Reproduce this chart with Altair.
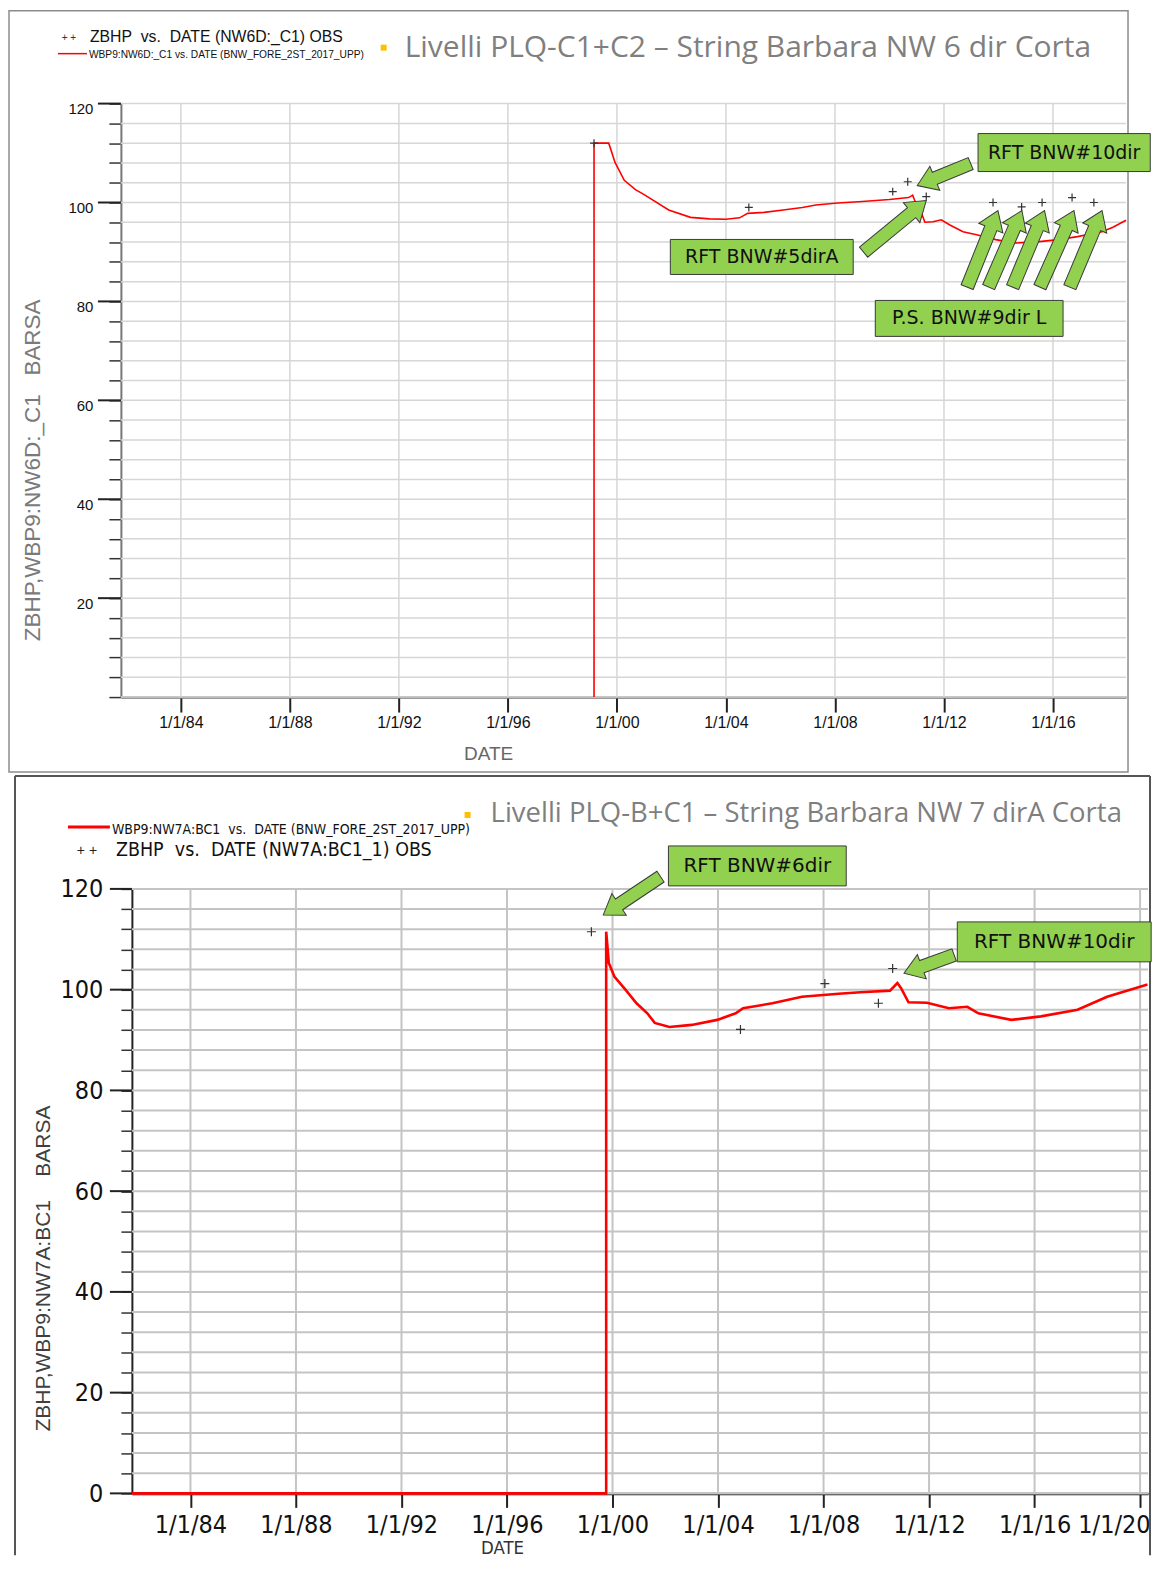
import math
import altair as alt
import pandas as pd

# ---------------- data ----------------
# top panel: simulated pressure (red line)
top_line_year = [1999.16, 1999.16, 1999.70, 1999.93, 2000.27, 2000.68, 2001.00, 2001.90, 2002.70, 2003.40,
                 2004.00, 2004.50, 2004.80, 2005.40, 2006.10, 2006.80, 2007.30, 2008.10, 2009.00, 2010.00,
                 2010.70, 2010.85, 2010.92, 2011.20, 2011.30, 2011.60, 2011.90, 2012.20, 2012.70, 2013.20,
                 2013.90, 2014.60, 2015.50, 2016.20, 2016.90, 2017.80, 2018.20, 2018.68]
top_line_val = [0.0, 112.0, 112.0, 108.1, 104.5, 102.6, 101.6, 98.5, 97.0, 96.7,
                96.6, 96.9, 97.8, 98.0, 98.5, 99.0, 99.5, 99.9, 100.2, 100.6,
                101.0, 101.5, 100.5, 97.5, 96.0, 96.1, 96.5, 95.5, 94.1, 93.5,
                92.5, 91.8, 92.1, 92.5, 93.1, 94.1, 95.0, 96.4]
# top panel: observed points (+)
top_obs_year = [1999.16, 2004.84, 2010.12, 2010.67, 2011.35, 2013.80, 2014.85, 2015.60, 2016.70, 2017.50]
top_obs_val = [112.0, 99.0, 102.2, 104.2, 101.2, 100.0, 99.1, 100.0, 101.0, 100.0]

# bottom panel: simulated pressure (red line)
bot_line_year = [1981.78, 1999.76, 1999.76, 1999.86, 2000.07, 2000.49, 2000.91, 2001.32, 2001.60, 2002.16,
                 2003.00, 2003.97, 2004.67, 2004.95, 2006.06, 2007.18, 2008.57, 2009.40, 2010.52, 2010.80,
                 2010.94, 2011.22, 2011.92, 2012.75, 2013.45, 2013.87, 2015.12, 2016.24, 2017.63, 2018.75,
                 2020.28]
bot_line_val = [0.0, 0.0, 111.5, 105.3, 102.6, 100.0, 97.3, 95.3, 93.4, 92.6,
                93.0, 94.0, 95.3, 96.3, 97.3, 98.6, 99.2, 99.5, 99.8, 101.3,
                100.3, 97.5, 97.4, 96.3, 96.6, 95.3, 94.0, 94.7, 96.0, 98.6,
                101.0]
# bottom panel: observed points (+)
bot_obs_year = [1999.20, 2004.85, 2008.05, 2010.08, 2010.62]
bot_obs_val = [111.5, 92.1, 101.2, 97.3, 104.2]

# axis ticks
y_ticks = list(range(0, 121, 4))
y_major = [0, 20, 40, 60, 80, 100, 120]
top_x_ticks = [1984, 1988, 1992, 1996, 2000, 2004, 2008, 2012, 2016]
bot_x_ticks = [1984, 1988, 1992, 1996, 2000, 2004, 2008, 2012, 2016, 2020]

# annotations (callout boxes and arrows, in date / value units)
top_box_label = ["RFT BNW#10dir", "RFT BNW#5dirA", "P.S. BNW#9dir L"]
top_box_x1 = [2013.25, 2001.96, 2009.48]
top_box_x2 = [2019.57, 2008.67, 2016.37]
top_box_y1 = [113.94, 92.53, 80.20]
top_box_y2 = [106.26, 85.45, 72.93]
top_arrow_tail_x = [2012.98, 2009.05, 2012.85, 2013.64, 2014.52, 2015.52, 2016.62]
top_arrow_tail_y = [107.88, 89.96, 82.89, 82.89, 82.89, 82.89, 82.89]
top_arrow_tip_x = [2011.02, 2011.35, 2013.98, 2014.86, 2015.69, 2016.77, 2017.80]
top_arrow_tip_y = [103.43, 100.40, 98.38, 98.38, 98.38, 98.38, 98.38]

bot_box_label = ["RFT BNW#6dir", "RFT BNW#10dir"]
bot_box_x1 = [2002.12, 2013.07]
bot_box_x2 = [2008.86, 2020.42]
bot_box_y1 = [128.53, 113.45]
bot_box_y2 = [120.60, 105.52]
bot_arrow_tail_x = [2001.82, 2012.95]
bot_arrow_tail_y = [122.44, 106.90]
bot_arrow_tip_x = [1999.65, 2011.05]
bot_arrow_tip_y = [114.84, 103.27]

# ---------------- styling / layout ----------------
GREEN = "#92D050"
RED = "#FF0000"
ARIAL = "Liberation Sans, Arial, sans-serif"
NARROW = "Liberation Sans Narrow, Arial Narrow, DejaVu Sans Condensed, sans-serif"
TITLEFONT = "Open Sans, Lato, sans-serif"
BOXFONT = "DejaVu Sans, Verdana, sans-serif"
CROSS = "M -1 0 L 1 0 M 0 -1 L 0 1"
NB = "\u00a0"
ONE = alt.Data(values=[{"k": 0}])

# one drawing area; each panel owns a pixel window inside it
AREA_W, AREA_H = 1006, 1391
TOP_WIN = dict(x0=0, x1=1006, y0=0, y1=594)       # plot window of the top panel
BOT_WIN = dict(x0=11, x1=1028, y0=786, y1=1391)   # plot window of the bottom panel
TOP_XD = [1981.80, 2018.68]
BOT_XD = [1981.78, 2020.30]
YD = [0, 120]


def text_layer(txt, x, y, size, font, color, align="left", angle=0):
    kw = dict(text=txt, fontSize=size, font=font, color=color, align=align, baseline="middle")
    if angle:
        kw["angle"] = angle
    return alt.Chart(ONE).mark_text(**kw).encode(x=alt.value(x), y=alt.value(y))


def hrule(x0, x1, y, color, width):
    return alt.Chart(ONE).mark_rule(color=color, strokeWidth=width).encode(
        x=alt.value(x0), x2=alt.value(x1), y=alt.value(y))


def vrule(x, y0, y1, color, width):
    return alt.Chart(ONE).mark_rule(color=color, strokeWidth=width).encode(
        x=alt.value(x), y=alt.value(y0), y2=alt.value(y1))


def arrow_frame(tx, ty, hx, hy, xd, yd, w, h):
    ppx = w / (xd[1] - xd[0])
    ppy = h / (yd[1] - yd[0])
    rows = []
    for x1, y1, x2, y2 in zip(tx, ty, hx, hy):
        dx = (x2 - x1) * ppx
        dy = -(y2 - y1) * ppy
        L = math.hypot(dx, dy)
        r = L / 2
        b, hh, hl = 6.5 / r, 13.0 / r, 19.0 / r
        k = 1 - hl
        path = (f"M -1 {-b:.4f} L {k:.4f} {-b:.4f} L {k:.4f} {-hh:.4f} L 1 0 "
                f"L {k:.4f} {hh:.4f} L {k:.4f} {b:.4f} L -1 {b:.4f} Z")
        rows.append(dict(mx=(x1 + x2) / 2, my=(y1 + y2) / 2, path=path,
                         ang=math.degrees(math.atan2(dy, dx)) % 360, sz=L * L))
    return pd.DataFrame(rows)


def panel(p):
    win = p["win"]
    w, h = win["x1"] - win["x0"], win["y1"] - win["y0"]
    xs = alt.Scale(domain=p["xd"], range=[win["x0"], win["x1"]], nice=False, zero=False)
    ys = alt.Scale(domain=YD, range=[win["y1"], win["y0"]], nice=False, zero=False)
    xax_kw = dict(values=p["xticks"], labelExpr="'1/1/' + substring(toString(datum.value), 2, 4)",
                  title=None, grid=False, orient="bottom", offset=win["y1"] - AREA_H,
                  tickColor="#222", tickWidth=2, tickSize=p["xtick"],
                  domainColor=p["xdom"], domainWidth=p["xdomw"],
                  labelFont=p["lfont"], labelFontSize=p["xlsize"], labelColor="#111",
                  labelPadding=p["xlpad"], labelOverlap=False)
    xax_kw.update(p["xflush"])
    xax = alt.Axis(**xax_kw)
    yax = alt.Axis(values=y_ticks, labelExpr=p["ylexpr"], title=None, grid=False,
                   orient="left", offset=-win["x0"], tickColor="#333",
                   tickWidth=1.5, tickSize=p["ytick"], domainColor=p["ydom"], domainWidth=2,
                   labelFont=p["lfont"], labelFontSize=p["ylsize"], labelColor="#111",
                   labelPadding=p["ylpad"], labelOffset=p["yloff"], labelFlush=False,
                   labelOverlap=False)
    X = lambda f: alt.X(f, scale=xs, axis=xax)
    Y = lambda f: alt.Y(f, scale=ys, axis=yax)

    line_df = pd.DataFrame({"year": p["lx"], "val": p["ly"], "i": range(len(p["lx"]))})
    obs_df = pd.DataFrame({"year": p["ox"], "val": p["oy"]})
    box_df = pd.DataFrame({"label": p["bl"], "x1": p["bx1"], "x2": p["bx2"],
                           "y1": p["by1"], "y2": p["by2"]})
    box_df["cx"] = (box_df.x1 + box_df.x2) / 2
    box_df["cy"] = (box_df.y1 + box_df.y2) / 2
    arr_df = arrow_frame(p["atx"], p["aty"], p["ahx"], p["ahy"], p["xd"], YD, w, h)
    major_df = pd.DataFrame({"v": [v for v in y_major if v >= p["ymin_label"]]})
    ygrid_df = pd.DataFrame({"v": y_ticks})
    xgrid_df = pd.DataFrame({"t": p["xticks"]})

    layers = list(p["frame"]) + [
        alt.Chart(ygrid_df).mark_rule(color=p["grid"], strokeWidth=p["gridw"]).encode(
            y=Y("v:Q"), x=alt.value(win["x0"]), x2=alt.value(win["x1"])),
        alt.Chart(xgrid_df).mark_rule(color=p["grid"], strokeWidth=p["gridw"]).encode(
            x=X("t:Q"), y=alt.value(win["y0"]), y2=alt.value(win["y1"])),
        alt.Chart(line_df).mark_line(color=RED, strokeWidth=p["lw"]).encode(
            x=X("year:Q"), y=Y("val:Q"), order="i:Q"),
        alt.Chart(major_df).mark_rule(color="#222", strokeWidth=2).encode(
            y=Y("v:Q"), x=alt.value(win["x0"] - p["major"]), x2=alt.value(win["x0"])),
        alt.Chart(obs_df).mark_point(shape=CROSS, filled=False, stroke="#333", strokeWidth=1.2,
                                     size=p["osz"], opacity=1).encode(x=X("year:Q"), y=Y("val:Q")),
        alt.Chart(box_df).mark_rect(fill=GREEN, stroke="#3a3a3a", strokeWidth=1).encode(
            x=X("x1:Q"), x2="x2:Q", y=Y("y1:Q"), y2="y2:Q"),
        alt.Chart(box_df).mark_text(font=BOXFONT, fontSize=p["bfs"], color="#111",
                                    baseline="middle", align="center").encode(
            x=X("cx:Q"), y=Y("cy:Q"), text="label:N"),
        alt.Chart(arr_df).mark_point(filled=True, fill=GREEN, stroke="#3a3a3a", strokeWidth=1,
                                     opacity=1, fillOpacity=1).encode(
            x=X("mx:Q"), y=Y("my:Q"), shape=alt.Shape("path:N", scale=None),
            angle=alt.Angle("ang:Q", scale=None), size=alt.Size("sz:Q", scale=None)),
    ]
    layers += p["extra"]
    return alt.layer(*layers)


# top panel frame + decorations (pixel positions relative to the top plot window)
top_frame = [
    alt.Chart(ONE).mark_rect(fillOpacity=0, stroke="#8c8c8c", strokeWidth=1.5).encode(
        x=alt.value(-112), x2=alt.value(1008), y=alt.value(-93), y2=alt.value(669)),
]
top_extra = [
    text_layer("+ +", -52, -66, 10, ARIAL, "#333", align="center"),
    text_layer(f"ZBHP{NB}{NB}vs.{NB}{NB}DATE (NW6D:_C1) OBS", -31, -67, 15.8, ARIAL, "#111"),
    hrule(-63, -34, -50, RED, 1.5),
    text_layer("WBP9:NW6D:_C1 vs. DATE (BNW_FORE_2ST_2017_UPP)", -32, -49, 10.2, ARIAL, "#111"),
    alt.Chart(ONE).mark_square(size=36, color="#FFC000", opacity=1).encode(
        x=alt.value(263), y=alt.value(-56)),
    text_layer("Livelli PLQ-C1+C2 \u2013 String Barbara NW 6 dir Corta", 284, -56, 30, TITLEFONT, "#7f7f7f"),
    text_layer(f"ZBHP,WBP9:NW6D:_C1{NB}{NB}{NB}BARSA", -88, 367, 22.5, ARIAL, "#7a7a7a",
               align="center", angle=270),
    text_layer("DATE", 368, 651, 19, ARIAL, "#666", align="center"),
]

# bottom panel frame + decorations (window origin at x=11, y=786)
BX, BY = BOT_WIN["x0"], BOT_WIN["y0"]
FL, FR, FT, FB = BX - 117, BX + 1019, BY - 113, BY + 667
bot_frame = [
    hrule(FL, FR, FT, "#555", 2),
    vrule(FL, FT, FB, "#555", 2),
    vrule(FR, FT, FB, "#555", 2),
]
bot_extra = [
    hrule(BX - 64, BX - 22, BY - 62, RED, 3),
    text_layer(f"WBP9:NW7A:BC1{NB}{NB}vs.{NB}{NB}DATE (BNW_FORE_2ST_2017_UPP)", BX - 20, BY - 59, 14, NARROW, "#111"),
    text_layer("+ +", BX - 45, BY - 38, 14, ARIAL, "#222", align="center"),
    text_layer(f"ZBHP{NB}{NB}vs.{NB}{NB}DATE (NW7A:BC1_1) OBS", BX - 16, BY - 39, 19.5, NARROW, "#111"),
    alt.Chart(ONE).mark_square(size=36, color="#FFC000", opacity=1).encode(
        x=alt.value(BX + 336), y=alt.value(BY - 74)),
    text_layer("Livelli PLQ-B+C1 \u2013 String Barbara NW 7 dirA Corta", BX + 359, BY - 75, 27.5, TITLEFONT, "#7f7f7f"),
    text_layer(f"ZBHP,WBP9:NW7A:BC1{NB}{NB}{NB}{NB}BARSA", BX - 88, BY + 380, 21, ARIAL, "#404040",
               align="center", angle=270),
    text_layer("DATE", BX + 371, BY + 660, 18.5, NARROW, "#333", align="center"),
]

top = panel(dict(
    win=TOP_WIN, xd=TOP_XD, xticks=top_x_ticks, grid="#d6d6d6", gridw=1.5,
    xtick=15, xdom="#777", xdomw=2.5, lfont=ARIAL, xlsize=16, xlpad=2,
    xflush=dict(labelFlush=False),
    ylexpr="datum.value % 20 === 0 && datum.value > 0 ? datum.label : ''",
    ytick=12, ydom="#777", ylsize=15, ylpad=16, yloff=5, ymin_label=20,
    lx=top_line_year, ly=top_line_val, lw=1.6, ox=top_obs_year, oy=top_obs_val, osz=64,
    bl=top_box_label, bx1=top_box_x1, bx2=top_box_x2, by1=top_box_y1, by2=top_box_y2,
    atx=top_arrow_tail_x, aty=top_arrow_tail_y, ahx=top_arrow_tip_x, ahy=top_arrow_tip_y,
    bfs=19, major=23, frame=top_frame, extra=top_extra))

bottom = panel(dict(
    win=BOT_WIN, xd=BOT_XD, xticks=bot_x_ticks, grid="#c4c4c4", gridw=2,
    xtick=14, xdom="#111", xdomw=2.5, lfont=NARROW, xlsize=25, xlpad=5,
    xflush=dict(labelFlush=12, labelFlushOffset=10),
    ylexpr="datum.value % 20 === 0 ? datum.label : ''",
    ytick=11, ydom="#222", ylsize=25, ylpad=18, yloff=0, ymin_label=0,
    lx=bot_line_year, ly=bot_line_val, lw=2.6, ox=bot_obs_year, oy=bot_obs_val, osz=81,
    bl=bot_box_label, bx1=bot_box_x1, bx2=bot_box_x2, by1=bot_box_y1, by2=bot_box_y2,
    atx=bot_arrow_tail_x, aty=bot_arrow_tail_y, ahx=bot_arrow_tip_x, ahy=bot_arrow_tip_y,
    bfs=20, major=22, frame=bot_frame, extra=bot_extra))

chart = alt.layer(top, bottom).resolve_scale(x="independent", y="independent").properties(
    width=AREA_W, height=AREA_H,
    padding={"left": 0, "top": 1, "right": 0, "bottom": 0},
).configure_view(stroke=None)

chart.save("out.html", embed_options={"renderer": "svg", "actions": False})
